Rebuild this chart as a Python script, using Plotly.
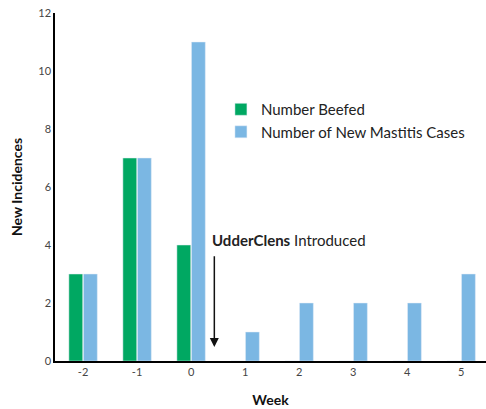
import plotly.graph_objects as go

weeks = ["-2", "-1", "0", "1", "2", "3", "4", "5"]
beefed = [3, 7, 4, 0, 0, 0, 0, 0]
mastitis = [3, 7, 11, 1, 2, 2, 2, 3]

GREEN = "#00A862"
BLUE = "#7BB7E3"
FONT = "Lato"

fig = go.Figure()
fig.add_trace(go.Bar(x=weeks, y=beefed, name="Number Beefed", marker_color=GREEN))
fig.add_trace(go.Bar(x=weeks, y=mastitis, name="Number of New Mastitis Cases", marker_color=BLUE))

fig.update_layout(
    width=486, height=409,
    margin=dict(l=55, r=0, t=13, b=48),
    plot_bgcolor="white", paper_bgcolor="white",
    barmode="group", bargap=0.46, bargroupgap=0.05,
    font=dict(family=FONT, color="#333333"),
    legend=dict(x=0.385, y=0.77, xanchor="left", yanchor="top",
                font=dict(size=15, color="#222222"), bgcolor="rgba(0,0,0,0)",
                itemwidth=30),
    xaxis=dict(type="category", range=[-0.52, 7.46], showline=True, linecolor="black",
               linewidth=1.5, ticks="", tickfont=dict(size=11, color="#444444"), automargin=False,
               title=dict(text="<b>Week</b>", font=dict(size=14, color="#111111"), standoff=18),
               showgrid=False, zeroline=False),
    yaxis=dict(range=[0, 12], dtick=2, showline=True, linecolor="black", linewidth=1.5, automargin=False,
               ticks="", tickfont=dict(size=11, color="#444444"), showgrid=False, zeroline=False,
               title=dict(text="<b>New Incidences</b>", font=dict(size=14, color="#111111"), standoff=12)),
)

fig.add_annotation(x=2.35, y=4.17, xref="x", yref="y", text="<b>UdderClens</b> Introduced",
                   showarrow=False, xanchor="left", yanchor="middle",
                   font=dict(size=15, color="#222222", family=FONT))
fig.add_annotation(x=2.43, y=0.48, ax=2.43, ay=3.66, xref="x", yref="y", axref="x", ayref="y",
                   text="", showarrow=True, arrowhead=2, arrowsize=1.2, arrowwidth=1.5,
                   arrowcolor="#111111")

fig.write_html("out.html", config={"displayModeBar": False},
               post_script="document.body.style.margin='0';")
